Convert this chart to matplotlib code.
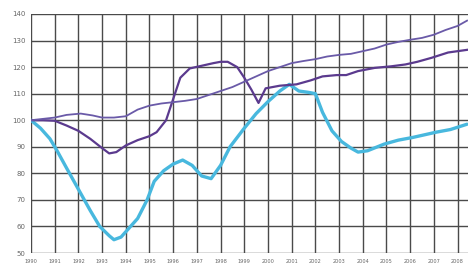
import matplotlib.pyplot as plt

# x positions in years, values index 1990 = 100
cyan_x = [1990.0, 1990.4, 1990.8, 1991.1, 1991.5, 1992.0, 1992.5, 1992.9, 1993.3, 1993.5,
          1993.8, 1994.1, 1994.5, 1994.9, 1995.2, 1995.6, 1996.0, 1996.4, 1996.8, 1997.2,
          1997.6, 1998.0, 1998.4, 1999.0, 1999.5, 2000.0, 2000.5, 2000.9, 2001.3, 2001.7,
          2002.0, 2002.3, 2002.7, 2003.1, 2003.5, 2003.8, 2004.2, 2004.9, 2005.5, 2006.1,
          2006.6, 2007.1, 2007.7, 2008.4]
cyan_y = [100, 97, 93, 88.5, 82, 74, 66, 60, 56.5, 55,
          56, 59, 63, 70, 77, 81, 83.5, 85, 83, 79,
          78, 83, 90, 97, 102.5, 107, 111, 113.5, 111, 110.5,
          110, 103, 96, 92, 89.5, 88, 88.5, 91, 92.5, 93.5,
          94.5, 95.5, 96.5, 98.5]

dark_x = [1990.0, 1990.5, 1991.0, 1991.5, 1992.0, 1992.5, 1993.0, 1993.3, 1993.6, 1994.0,
          1994.5, 1995.0, 1995.3, 1995.7, 1996.0, 1996.3, 1996.7, 1997.2, 1997.7, 1998.0,
          1998.3, 1998.7, 1999.0, 1999.3, 1999.6, 1999.9, 2000.5, 2001.2, 2001.8, 2002.3,
          2002.9, 2003.3, 2003.8, 2004.5, 2005.2, 2005.8, 2006.3, 2006.9, 2007.6, 2008.4]
dark_y = [100, 100, 99.8, 98, 96, 93, 89.5, 87.5, 88, 90.5,
          92.5, 94, 95.5, 100, 108, 116, 119.5, 120.5, 121.5, 122,
          122, 120, 116, 111.5, 106.5, 112, 113, 113.5, 115, 116.5,
          117, 117, 118.5, 119.7, 120.3, 121, 122, 123.5, 125.5, 126.5]

mid_x = [1990.0, 1990.5, 1991.0, 1991.5, 1992.1, 1992.6, 1993.0, 1993.5, 1994.0, 1994.5,
         1995.0, 1995.5, 1996.0, 1996.5, 1997.0, 1997.5, 1998.0, 1998.5, 1999.0, 1999.5,
         2000.0, 2000.5, 2001.0, 2001.5, 2002.0, 2002.5, 2003.0, 2003.5, 2004.0, 2004.5,
         2005.0, 2005.5, 2006.0, 2006.5, 2007.0, 2007.5, 2008.0, 2008.4]
mid_y = [100, 100.5, 101, 102, 102.5, 101.8, 101, 101, 101.5, 104,
         105.5, 106.3, 106.8, 107.3, 108, 109.5, 111, 112.5, 114.5, 116.5,
         118.5, 120, 121.5, 122.3, 123, 124, 124.6, 125, 126, 127,
         128.5, 129.5, 130.3, 131, 132.2, 134, 135.5, 137.5]

years = list(range(1990, 2009))
yticks = list(range(50, 141, 10))

fig = plt.figure(figsize=(4.68, 2.71), dpi=100)
ax = fig.add_axes([31 / 468, 18 / 271, 437 / 468, 239 / 271])

ax.plot(cyan_x, cyan_y, color='#48b8de', linewidth=2.4, solid_capstyle='round')
ax.plot(dark_x, dark_y, color='#5b3a8e', linewidth=1.6)
ax.plot(mid_x, mid_y, color='#6a5aa8', linewidth=1.3)

ax.set_xlim(1990, 2008.44)
ax.set_ylim(50, 140)
ax.set_xticks(years)
ax.set_xticklabels([str(y) for y in years], fontsize=3.6, color='#666666')
ax.set_yticks(yticks)
ax.set_yticklabels([str(v) for v in yticks], fontsize=5, color='#666666')
ax.tick_params(length=0, pad=4)
ax.grid(True, color='#4a4a4a', linewidth=1.0)
ax.set_axisbelow(True)
for s in ax.spines.values():
    s.set_visible(False)

fig.savefig('out.png', dpi=100)
